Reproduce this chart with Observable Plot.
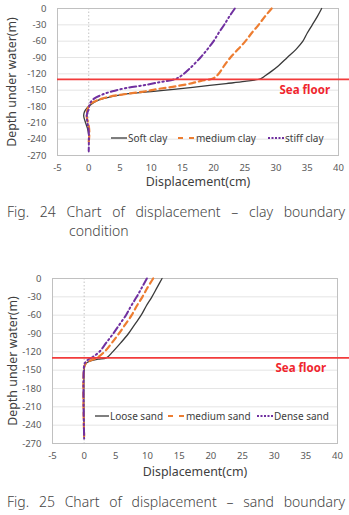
<!DOCTYPE html>
<html>
<head>
<meta charset="utf-8">
<script src="https://cdn.jsdelivr.net/npm/d3@7"></script>
<script src="https://cdn.jsdelivr.net/npm/@observablehq/plot@0.6"></script>
<style>
  html, body { margin: 0; padding: 0; background: #fff; }
  body { width: 349px; height: 515px; position: relative; overflow: hidden; font-family: "Noto Sans", sans-serif; }
  .chart { position: absolute; left: 0; }
  .legend-item { position: absolute; display: flex; align-items: center; font-size: 10px; color: #404040; white-space: nowrap; transform: translateY(-50%); }
  .legend-item svg { display: block; margin-right: 1px; }
  .caption { position: absolute; left: 0; width: 345px; font-size: 14px; line-height: 19px; color: #444;
             text-align: justify; padding-left: 69px; text-indent: -62px; box-sizing: border-box; font-weight: 300; }
  .caption.single { text-align-last: justify; }
</style>
</head>
<body>
<div id="root"></div>
<script>
// Axis ticks shared by both charts
const xTicks = [-5, 0, 5, 10, 15, 20, 25, 30, 35, 40];
const yTicks = [0, -30, -60, -90, -120, -150, -180, -210, -240, -270];
const seaFloor = -130;

// Clay boundary condition: [displacement (cm), depth (m)]
const softClay = [[37.3,0],[36.6,-15],[35.8,-30],[35,-45],[34.3,-60],[33.2,-75],[31.8,-90],[30.4,-105],[29.3,-115],[28.2,-124],[27.5,-129],
  [25,-134],[22,-138],[18,-143],[14,-148],[10,-152.5],[6,-157],[4,-161],[2.5,-165],[1.2,-170],[0.3,-177],[-0.3,-183],[-0.7,-190],[-0.8,-198],[-0.5,-210],[-0.2,-220],[0,-232]];
const mediumClay = [[29.3,0],[28.2,-15],[27.2,-30],[26.1,-45],[25.1,-60],[23.9,-75],[22.7,-90],[21.7,-105],[20.8,-120],[20,-128],
  [18,-133],[16.6,-137],[13.9,-143],[11,-148],[8.6,-153],[6,-157],[3.3,-162],[1.5,-168],[0.3,-175],[0,-180],[-0.3,-190],[-0.3,-200],[0,-215],[0.1,-230],[0,-245]];
const stiffClay = [[23.4,0],[22.5,-15],[21.7,-30],[20.8,-45],[20,-60],[19,-75],[17.9,-90],[16.2,-110],[15,-122],[14,-129],
  [11.5,-135],[8.8,-141],[6,-146],[3.8,-152],[2.2,-158],[0.8,-166],[0.2,-174],[0,-185],[-0.3,-195],[-0.2,-210],[0,-225],[0,-262]];

// Sand boundary condition: [displacement (cm), depth (m)]
const looseSand = [[12.3,0],[11.5,-15],[10.7,-30],[9.8,-45],[9,-60],[8,-75],[7,-90],[5.8,-105],[4.5,-120],[3.5,-130],
  [2.2,-132],[1,-135],[0.4,-138],[0.1,-143],[0,-150],[0,-260]];
const mediumSand = [[10.9,0],[10,-15],[9.2,-30],[8.3,-45],[7.5,-60],[6.5,-75],[5.5,-90],[4.4,-105],[3.2,-120],[2,-130],
  [1,-134],[0.3,-138],[0,-145],[0,-258]];
const denseSand = [[9.9,0],[9.1,-15],[8.3,-30],[7.4,-45],[6.6,-60],[5.6,-75],[4.6,-90],[3.5,-105],[2.4,-120],[1.4,-128],
  [0.6,-133],[0.2,-137],[0,-142],[0,-262]];

const clayNames = ["Soft clay", "medium clay", "stiff clay"];
const sandNames = ["Loose sand", "medium sand", "Dense sand"];

// Line styles: solid black, dashed orange, long-dash-dot purple
const styles = [
  {stroke: "#3a3a3a", strokeWidth: 1.3, strokeDasharray: null},
  {stroke: "#ED7D31", strokeWidth: 2.2, strokeDasharray: "6,4"},
  {stroke: "#7030A0", strokeWidth: 2, strokeDasharray: "7,3,1.5,3,1.5,3"}
];

const root = document.getElementById("root");

function drawChart(cfg) {
  const wrap = document.createElement("div");
  wrap.className = "chart";
  wrap.style.top = cfg.top + "px";
  const fmt = d => String(d);
  const lines = cfg.series.map((s, i) => Plot.line(s, {
    x: d => d[0], y: d => d[1], curve: "catmull-rom",
    stroke: styles[i].stroke, strokeWidth: styles[i].strokeWidth,
    strokeDasharray: styles[i].strokeDasharray
  }));
  const svg = Plot.plot({
    width: 349, height: cfg.height,
    marginLeft: cfg.marginLeft, marginRight: cfg.marginRight,
    marginTop: cfg.marginTop, marginBottom: cfg.marginBottom,
    x: {domain: [-5, 40]},
    y: {domain: [-270, 0]},
    style: {fontFamily: "'Noto Sans', sans-serif", color: "#595959", background: "transparent", overflow: "visible"},
    marks: [
      Plot.ruleY(yTicks.filter(t => t > -270 && t < 0), {stroke: "#dedede", strokeWidth: 0.8}),
      Plot.ruleX([0], {stroke: "#c4c4c4", strokeDasharray: "1.5,2"}),
      Plot.frame({stroke: "#c0c0c0"}),
      Plot.axisX({ticks: xTicks, tickSize: 0, tickPadding: 9, tickFormat: fmt, fontSize: 9.5, label: null}),
      Plot.axisY({ticks: yTicks, tickSize: 0, tickPadding: 11, tickFormat: fmt, fontSize: 9.5, label: null}),
      Plot.text(["Displacement(cm)"], {frameAnchor: "bottom", dy: cfg.xTitleDy, fontSize: 12.4, fill: "#404040", lineAnchor: "middle", textAnchor: "middle"}),
      Plot.text(["Depth under water(m)"], {frameAnchor: "left", dx: cfg.yTitleDx, rotate: -90, fontSize: 12.4, fill: "#404040", textAnchor: "middle", lineAnchor: "middle"}),
      ...lines,
      Plot.ruleY([seaFloor], {x1: -5, x2: cfg.ruleEnd, stroke: "#F23B3B", strokeWidth: 1.8}),
      Plot.text(["Sea floor"], {x: cfg.labelAt[0], y: cfg.labelAt[1], fill: "#F0262E", fontWeight: "bold", fontSize: 11.5})
    ]
  });
  wrap.appendChild(svg);
  root.appendChild(wrap);

  // Legend drawn inside the plot area
  cfg.names.forEach((name, i) => {
    const item = document.createElement("div");
    item.className = "legend-item";
    item.style.left = cfg.legendX[i] + "px";
    item.style.top = cfg.legendY + "px";
    const w = cfg.sampleW[i];
    const s = styles[i];
    const dash = s.strokeDasharray ? ` stroke-dasharray="${i === 2 ? "2,1.5" : "5,6"}"` : "";
    item.innerHTML = `<svg width="${w}" height="6"><line x1="0" y1="3" x2="${w}" y2="3" stroke="${s.stroke}" stroke-width="${s.strokeWidth}"${dash}/></svg><span>${name}</span>`;
    root.appendChild(item);
  });

  const cap = document.createElement("div");
  cap.className = "caption" + (cfg.captionSingle ? " single" : "");
  cap.style.top = cfg.captionTop + "px";
  cap.textContent = cfg.caption;
  root.appendChild(cap);
}

drawChart({
  top: 0, height: 195, marginLeft: 57, marginRight: 11, marginTop: 8, marginBottom: 40,
  series: [softClay, mediumClay, stiffClay], names: clayNames,
  xTitleDy: 27, yTitleDx: -45, ruleEnd: 41.8, labelAt: [34.6, -150],
  legendX: [111, 178, 268], legendY: 138, sampleW: [16, 17, 16],
  captionTop: 202, caption: "Fig. 24 Chart of displacement \u2013 clay boundary condition"
});

drawChart({
  top: 258, height: 225, marginLeft: 52, marginRight: 12, marginTop: 20, marginBottom: 40,
  series: [looseSand, mediumSand, denseSand], names: sandNames,
  xTitleDy: 29, yTitleDx: -39, ruleEnd: 41.9, labelAt: [34.2, -147],
  legendX: [95, 168, 257], legendY: 416, sampleW: [14, 17, 16],
  captionTop: 492, captionSingle: true, caption: "Fig. 25 Chart of displacement \u2013 sand boundary"
});
</script>
</body>
</html>
